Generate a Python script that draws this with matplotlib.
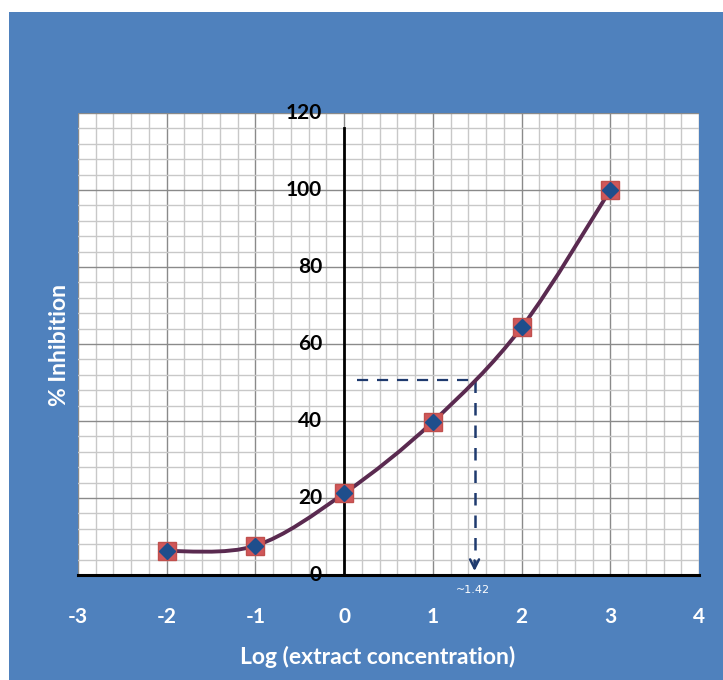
import matplotlib
matplotlib.use("Agg")
import matplotlib.pyplot as plt
from matplotlib.patches import Rectangle, PathPatch
from matplotlib.path import Path
from matplotlib.ticker import MultipleLocator

# ---- data ----
log_conc = [-2, -1, 0, 1, 2, 3]
inhibition = [6.2, 7.6, 21.2, 39.8, 64.3, 100.0]
x_ticks = [-3, -2, -1, 0, 1, 2, 3, 4]
y_ticks = [0, 20, 40, 60, 80, 100, 120]
ic50_x = 1.47
ic50_y = 50.6
ic50_label = "~1.42"

BLUE_BG = "#4F81BD"
W, H = 723, 680
plt.rcParams['font.family'] = ['Lato', 'DejaVu Sans']

fig = plt.figure(figsize=(W / 100, H / 100), dpi=100, facecolor="white")
bg = Rectangle((9 / W, 0), 1 - 9 / W, (H - 12) / H,
               transform=fig.transFigure, facecolor=BLUE_BG,
               edgecolor="none", zorder=-10)
fig.add_artist(bg)

left, right, top, bottom = 78, 699, 113, 575
ax = fig.add_axes([left / W, (H - bottom) / H, (right - left) / W, (bottom - top) / H])
ax.set_zorder(1)
ax.set_facecolor("white")
ax.set_xlim(-3, 4)
ax.set_ylim(0, 120)
for s in ax.spines.values():
    s.set_visible(False)

ax.xaxis.set_major_locator(MultipleLocator(1))
ax.xaxis.set_minor_locator(MultipleLocator(0.2))
ax.yaxis.set_major_locator(MultipleLocator(20))
ax.yaxis.set_minor_locator(MultipleLocator(4))
ax.grid(which="major", color="#8a8a8a", lw=1.0, zorder=1)
ax.grid(which="minor", color="#c8c8c8", lw=1.0, zorder=1)
ax.tick_params(which="both", length=0, labelleft=False, labelbottom=False)

# axes lines through origin
ax.axhline(0, color="black", lw=2.2, zorder=3, clip_on=False)
ax.plot([0, 0], [0, 116], color="black", lw=2.0, zorder=3)

# y tick labels next to the vertical axis
for v in y_ticks:
    ax.text(-0.25, v, str(v), ha="right", va="center", fontsize=15,
            fontweight="bold", color="black", zorder=4, clip_on=False)

# x tick labels below the plot
for v in x_ticks:
    ax.text(v, -11, str(v), ha="center", va="center", fontsize=15,
            fontweight="bold", color="white", clip_on=False)

fig.text(378 / W, 1 - 657 / H, "Log (extract concentration)", ha="center",
         va="center", fontsize=16.5, fontweight="bold", color="white")
fig.text(60 / W, 1 - 345 / H, "% Inhibition", ha="center", va="center",
         rotation=90, fontsize=16.5, fontweight="bold", color="white")

# smoothed (Excel-like Catmull-Rom Bezier) curve through the points
pts = list(zip(log_conc, inhibition))
verts = [pts[0]]
codes = [Path.MOVETO]
n = len(pts)
for i in range(n - 1):
    p0 = pts[i - 1] if i > 0 else pts[i]
    p1 = pts[i]
    p2 = pts[i + 1]
    p3 = pts[i + 2] if i + 2 < n else pts[i + 1]
    c1 = (p1[0] + (p2[0] - p0[0]) / 6, p1[1] + (p2[1] - p0[1]) / 6)
    c2 = (p2[0] - (p3[0] - p1[0]) / 6, p2[1] - (p3[1] - p1[1]) / 6)
    verts += [c1, c2, p2]
    codes += [Path.CURVE4] * 3
ax.add_patch(PathPatch(Path(verts, codes), fill=False, edgecolor="#5A2A50",
                       lw=2.8, zorder=5))

ax.plot(log_conc, inhibition, ls="none", marker="s", ms=13,
        mfc="#D0575A", mec="#C0504D", zorder=6)
ax.plot(log_conc, inhibition, ls="none", marker="D", ms=8,
        mfc="#1F4E8C", mec="#1F4E8C", zorder=7)

# IC50 guide lines
dash_col = "#1F3A6E"
ax.plot([0.15, ic50_x], [ic50_y, ic50_y], color=dash_col, lw=1.6,
        dashes=(5, 4), zorder=4)
ax.plot([ic50_x, ic50_x], [ic50_y, 3], color=dash_col, lw=1.8,
        dashes=(5, 4), zorder=4)
ax.annotate("", xy=(ic50_x, 0.3), xytext=(ic50_x, 4.5),
            arrowprops=dict(arrowstyle="->", color=dash_col, lw=1.8,
                            mutation_scale=16), zorder=4)
ax.text(ic50_x - 0.02, -4, ic50_label, ha="center", va="center", fontsize=8,
        color="white", clip_on=False, family=["DejaVu Sans"])

fig.savefig("out.png", dpi=100, facecolor="white")
